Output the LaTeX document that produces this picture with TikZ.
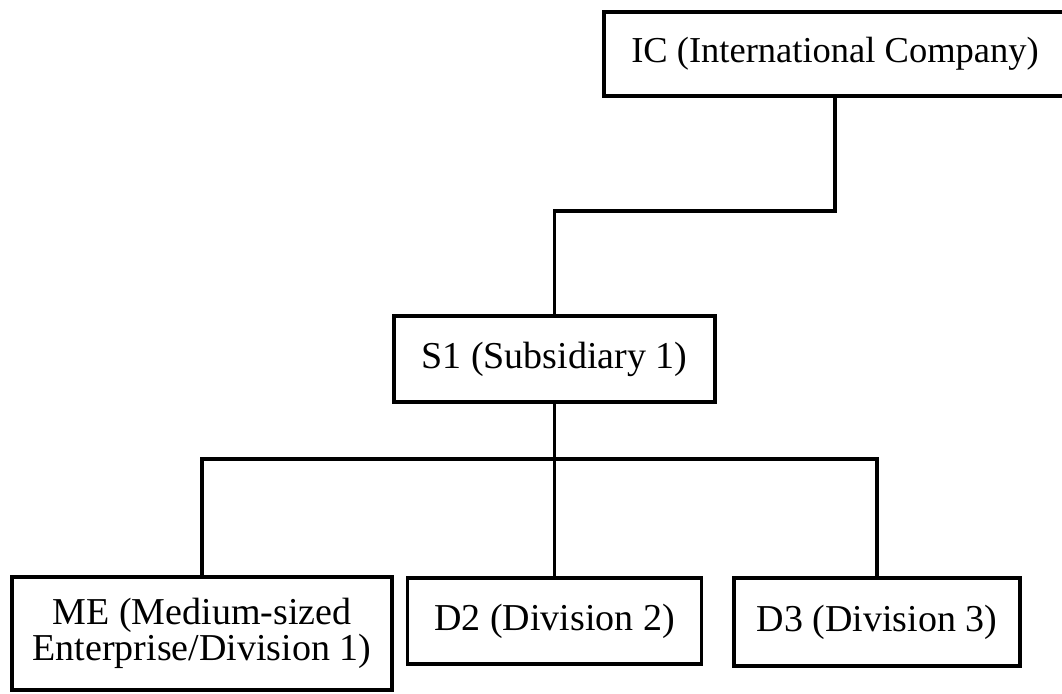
\documentclass[tikz,border=0pt]{standalone}
\usepackage{fontspec}
\setmainfont{Liberation Serif}
\begin{document}
\begin{tikzpicture}[x=1pt,y=1pt,
  unit/.style={draw, line width=3.2pt, inner sep=0pt, align=center,
    font=\fontsize{38}{36}\selectfont},
  link/.style={line width=3.2pt, line join=miter}]
\useasboundingbox (0,0) rectangle (1062,-693);
\clip (0,0) rectangle (1062,-693);

% organisational units
\node[unit, minimum width=462, minimum height=84, font=\fontsize{36.5}{36}\selectfont] (IC) at (835,-54) {IC (International Company)\vphantom{j}};
\node[unit, minimum width=321, minimum height=86] (S1) at (554.5,-359) {S1 (Subsidiary 1)};
\node[unit, minimum width=380, minimum height=113] (ME) at (202,-633.5) {ME (Medium-sized\\Enterprise/Division 1)};
\node[unit, minimum width=294, minimum height=86] (D2) at (554.5,-621) {D2 (Division 2)};
\node[unit, minimum width=286, minimum height=88] (D3) at (877,-622) {D3 (Division 3)};

% junction levels of the reporting lines
\coordinate (j1) at (0,-211);
\coordinate (j2) at (0,-459);

% reporting lines
\draw[link] (IC.south) -- (IC.south |- j1) -| (S1.north);
\draw[link] (S1.south) -- (D2.north);
\draw[link] (ME.north) |- (D3.north |- j2) -- (D3.north);
\end{tikzpicture}
\end{document}
